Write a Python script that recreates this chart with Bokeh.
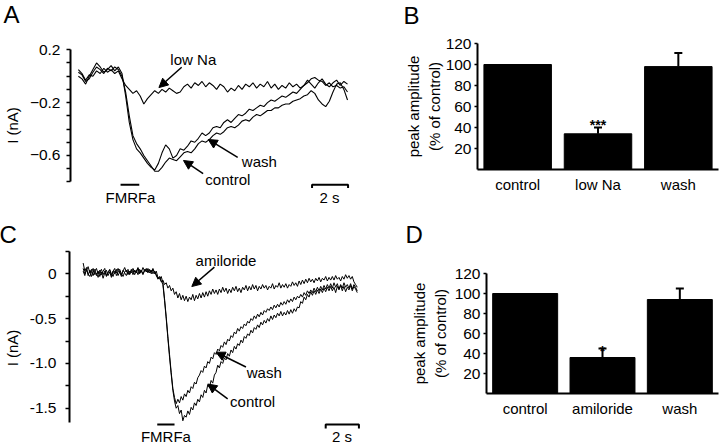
import numpy as np
from bokeh.plotting import figure
from bokeh.models import (Range1d, FactorRange, FixedTicker, Title, Arrow, NormalHead,
                          Whisker, TeeHead, ColumnDataSource)
from bokeh.layouts import row, column
from bokeh.embed import file_html
from bokeh.resources import INLINE
from bokeh.core.properties import value

FONT = "Liberation Sans"

# ---------------- Panel A data (current, nA; sampled every 0.2 s) ----------------
A_DT = 0.2
A_CONTROL = [
    0.03, 0.01, -0.04, -0.02, 0.03, 0.07, 0.05, 0.02, 0.06, 0.04,
    0.07, 0.05, 0.00, -0.12, -0.30, -0.45, -0.51, -0.55, -0.60, -0.64,
    -0.68, -0.72, -0.72, -0.69, -0.65, -0.62, -0.63, -0.64, -0.61, -0.58,
    -0.57, -0.58, -0.55, -0.51, -0.49, -0.50, -0.48, -0.45, -0.43, -0.44,
    -0.42, -0.39, -0.38, -0.39, -0.37, -0.34, -0.33, -0.34, -0.31, -0.29,
    -0.30, -0.28, -0.26, -0.26, -0.24, -0.24, -0.22, -0.21, -0.21, -0.19,
    -0.18, -0.17, -0.15, -0.14, -0.11, -0.13, -0.18, -0.21, -0.23, -0.19,
    -0.12, -0.06, -0.05, -0.10, -0.18]
A_WASH = [
    0.00, -0.02, -0.06, 0.00, 0.05, 0.10, 0.07, 0.03, 0.05, 0.08,
    0.04, 0.07, 0.02, -0.15, -0.35, -0.48, -0.55, -0.58, -0.62, -0.66,
    -0.69, -0.71, -0.66, -0.58, -0.52, -0.55, -0.62, -0.60, -0.55, -0.56,
    -0.53, -0.49, -0.50, -0.47, -0.43, -0.45, -0.43, -0.39, -0.38, -0.39,
    -0.35, -0.33, -0.35, -0.32, -0.29, -0.30, -0.28, -0.25, -0.26, -0.24,
    -0.22, -0.23, -0.20, -0.18, -0.19, -0.17, -0.15, -0.16, -0.14, -0.12,
    -0.13, -0.10, -0.07, -0.05, -0.02, -0.01, -0.03, -0.04, -0.07, -0.05,
    -0.08, -0.07, -0.09, -0.08, -0.12]
A_LOWNA = [
    0.05, 0.02, -0.03, 0.01, 0.00, 0.04, 0.02, 0.06, 0.03, 0.05,
    0.02, 0.04, -0.02, -0.07, -0.10, -0.13, -0.11, -0.15, -0.21, -0.17,
    -0.14, -0.11, -0.13, -0.10, -0.12, -0.09, -0.11, -0.13, -0.12, -0.08,
    -0.06, -0.09, -0.05, -0.07, -0.04, -0.08, -0.05, -0.07, -0.10, -0.06,
    -0.08, -0.12, -0.09, -0.11, -0.07, -0.10, -0.06, -0.08, -0.05, -0.09,
    -0.06, -0.08, -0.04, -0.09, -0.06, -0.10, -0.07, -0.09, -0.05, -0.08,
    -0.06, -0.09, -0.07, -0.03, -0.06, -0.09, -0.05, -0.02, -0.06, -0.08,
    -0.05, -0.03, -0.07, -0.04, -0.06]

# ---------------- Panel B data ----------------
B_CATS = ["control", "low Na", "wash"]
B_VALUES = [100, 34, 98]
B_ERRORS = [0, 6, 13]
B_SIG = ["", "***", ""]

# ---------------- Panel C data (current, nA; sampled every 0.1 s) ----------------
C_DT = 0.1
C_CONTROL = [
    0.12, 0.03, 0.07, -0.02, 0.04, -0.03, 0.02, 0.05, -0.02, 0.03,
    -0.03, 0.02, -0.05, 0.01, 0.04, -0.02, 0.02, -0.04, 0.03, 0.00,
    0.05, -0.02, 0.02, -0.03, 0.04, 0.01, -0.02, 0.03, 0.00, 0.05,
    -0.01, 0.04, 0.01, 0.06, 0.00, 0.03, -0.01, 0.05, 0.02, 0.06,
    0.01, 0.04, 0.00, 0.03, -0.02, -0.05, -0.03, -0.08, -0.12, -0.30,
    -0.50, -0.72, -0.93, -1.12, -1.30, -1.42, -1.50, -1.47, -1.56, -1.52,
    -1.64, -1.58, -1.60, -1.53, -1.57, -1.49, -1.52, -1.44, -1.47, -1.40,
    -1.43, -1.35, -1.38, -1.30, -1.33, -1.24, -1.27, -1.19, -1.22, -1.13,
    -1.10, -1.02, -1.05, -0.98, -1.00, -0.94, -0.96, -0.89, -0.92, -0.85,
    -0.88, -0.81, -0.84, -0.78, -0.80, -0.74, -0.77, -0.70, -0.72, -0.67,
    -0.69, -0.63, -0.66, -0.60, -0.62, -0.57, -0.60, -0.54, -0.57, -0.52,
    -0.55, -0.50, -0.53, -0.47, -0.51, -0.46, -0.49, -0.44, -0.47, -0.42,
    -0.47, -0.43, -0.46, -0.41, -0.45, -0.40, -0.44, -0.39, -0.42, -0.37,
    -0.38, -0.31, -0.33, -0.26, -0.29, -0.23, -0.26, -0.20, -0.24, -0.19,
    -0.23, -0.18, -0.22, -0.17, -0.21, -0.16, -0.20, -0.15, -0.19, -0.14,
    -0.19, -0.15, -0.21, -0.14, -0.18, -0.13, -0.19, -0.14, -0.20, -0.15,
    -0.18, -0.13, -0.19, -0.14, -0.17, -0.21]
C_WASH = [
    0.06, 0.00, 0.04, 0.08, 0.01, 0.05, -0.02, 0.03, 0.06, 0.00,
    0.04, -0.01, 0.03, 0.06, -0.02, 0.02, 0.05, 0.00, -0.03, 0.03,
    0.01, 0.06, 0.02, -0.01, 0.03, 0.07, 0.02, 0.05, -0.01, 0.03,
    0.06, 0.02, 0.04, -0.01, 0.05, 0.02, 0.07, 0.03, 0.05, 0.01,
    0.05, 0.02, 0.06, 0.00, 0.03, -0.04, -0.06, -0.03, -0.10, -0.28,
    -0.48, -0.70, -0.90, -1.10, -1.28, -1.38, -1.45, -1.40, -1.44, -1.37,
    -1.41, -1.34, -1.37, -1.30, -1.33, -1.26, -1.28, -1.21, -1.23, -1.16,
    -1.13, -1.08, -1.10, -1.03, -1.05, -0.98, -1.00, -0.93, -0.95, -0.88,
    -0.90, -0.84, -0.86, -0.80, -0.82, -0.76, -0.79, -0.73, -0.75, -0.69,
    -0.71, -0.65, -0.67, -0.61, -0.64, -0.59, -0.61, -0.56, -0.58, -0.53,
    -0.55, -0.50, -0.52, -0.47, -0.50, -0.45, -0.48, -0.43, -0.46, -0.41,
    -0.43, -0.39, -0.41, -0.37, -0.40, -0.35, -0.38, -0.34, -0.37, -0.32,
    -0.35, -0.31, -0.34, -0.29, -0.32, -0.28, -0.31, -0.26, -0.29, -0.25,
    -0.27, -0.23, -0.26, -0.21, -0.24, -0.19, -0.22, -0.18, -0.21, -0.16,
    -0.20, -0.15, -0.19, -0.14, -0.18, -0.13, -0.17, -0.12, -0.16, -0.11,
    -0.16, -0.10, -0.15, -0.11, -0.17, -0.12, -0.16, -0.10, -0.15, -0.12,
    -0.16, -0.11, -0.17, -0.12, -0.15, -0.19]
C_AMILORIDE = [
    0.03, -0.02, 0.05, 0.00, -0.03, 0.02, 0.06, -0.01, 0.01, -0.04,
    0.02, 0.05, -0.01, 0.03, -0.03, 0.01, 0.04, -0.02, 0.03, 0.06,
    -0.02, 0.02, 0.05, 0.00, -0.03, 0.02, 0.04, -0.01, 0.03, 0.01,
    0.04, -0.01, 0.03, 0.07, 0.01, 0.04, 0.00, 0.03, 0.06, 0.02,
    0.04, 0.00, 0.05, 0.02, -0.01, -0.06, -0.04, -0.09, -0.07, -0.12,
    -0.10, -0.16, -0.13, -0.19, -0.16, -0.23, -0.20, -0.27, -0.22, -0.29,
    -0.24, -0.30, -0.25, -0.31, -0.26, -0.29, -0.23, -0.30, -0.24, -0.28,
    -0.22, -0.27, -0.21, -0.26, -0.20, -0.25, -0.19, -0.23, -0.17, -0.22,
    -0.18, -0.23, -0.17, -0.21, -0.15, -0.20, -0.16, -0.22, -0.17, -0.21,
    -0.15, -0.19, -0.14, -0.20, -0.16, -0.21, -0.15, -0.18, -0.13, -0.19,
    -0.14, -0.18, -0.12, -0.17, -0.13, -0.19, -0.14, -0.17, -0.12, -0.16,
    -0.13, -0.18, -0.14, -0.16, -0.11, -0.17, -0.13, -0.15, -0.10, -0.16,
    -0.12, -0.15, -0.11, -0.16, -0.12, -0.14, -0.09, -0.13, -0.10, -0.14,
    -0.08, -0.12, -0.07, -0.11, -0.06, -0.10, -0.05, -0.09, -0.06, -0.10,
    -0.05, -0.08, -0.04, -0.09, -0.05, -0.07, -0.03, -0.08, -0.04, -0.07,
    -0.03, -0.07, -0.02, -0.06, -0.04, -0.08, -0.03, -0.06, -0.01, -0.05,
    -0.02, -0.06, -0.03, -0.09, -0.12, -0.15]

# ---------------- Panel D data ----------------
D_CATS = ["control", "amiloride", "wash"]
D_VALUES = [100, 36, 94]
D_ERRORS = [0, 9, 11]
D_SIG = ["", "*", ""]

A_TIME = np.round(np.arange(len(A_CONTROL)) * A_DT, 3)
C_TIME = np.round(np.arange(len(C_CONTROL)) * C_DT, 3)


def style_common(p):
    p.outline_line_color = None
    p.background_fill_color = "white"
    p.border_fill_color = "white"
    p.grid.grid_line_color = None
    p.frame_align = False


def panel_letter(p, txt, offset, lh=None):
    kw = dict(align="left", vertical_align="top", offset=offset, standoff=1,
              text_font=FONT, text_font_size="24px", text_font_style="normal",
              text_color="black")
    title = None
    if lh is not None:
        # an empty second line fills the space between the letter and the frame
        try:
            title = Title(text=txt + "\n", text_line_height=lh, **kw)
        except Exception:
            title = None
    if title is None:
        title = Title(text=txt, **kw)
    p.add_layout(title, "above")


def style_trace_yaxis(ax, major, minor, bounds):
    ax.bounds = bounds
    ax.ticker = FixedTicker(ticks=major, minor_ticks=minor)
    ax.axis_line_width = 2
    ax.axis_line_color = "black"
    ax.major_tick_line_width = 1.5
    ax.minor_tick_line_width = 1.5
    ax.major_tick_out = 4
    ax.major_tick_in = 0
    ax.minor_tick_out = 4
    ax.minor_tick_in = 0
    ax.major_label_text_font = FONT
    ax.major_label_text_font_size = "15.5px"
    ax.major_label_text_color = "black"
    ax.axis_label = "I (nA)"
    ax.axis_label_text_font = FONT
    ax.axis_label_text_font_size = "15px"
    ax.axis_label_text_font_style = "normal"
    ax.axis_label_text_color = "black"


def add_texts(p, xs, ys, texts, size="15px"):
    p.text(x=xs, y=ys, text=texts, text_font=value(FONT), text_font_size=value(size),
           text_align="center", text_baseline="middle", text_color="black")


def add_arrow(p, x0, y0, x1, y1):
    p.add_layout(Arrow(end=NormalHead(size=9, fill_color="black", line_color="black", line_width=1),
                       x_start=x0, y_start=y0, x_end=x1, y_end=y1,
                       line_color="black", line_width=1.5))


# ================= Panel A =================
pA = figure(width=360, height=220, x_range=Range1d(-0.4324, 15.514), y_range=Range1d(-1.0924, 0.346),
            x_axis_type=None, output_backend="svg", toolbar_location=None, title=None,
            min_border_left=65, min_border_right=0, min_border_top=30, min_border_bottom=0)
style_common(pA)
style_trace_yaxis(pA.yaxis[0], [-0.6, -0.2, 0.2], [-0.8, -0.7, -0.5, -0.4, -0.3, -0.1, 0.0, 0.1], (-0.8, 0.2))
pA.yaxis[0].major_label_standoff = 6
pA.yaxis[0].axis_label_standoff = 6
for series in (A_LOWNA, A_WASH, A_CONTROL):
    pA.line(A_TIME, series, line_color="black", line_width=1.1)
# stimulus bar + scale bar
pA.line([2.32, 3.35], [-0.821, -0.821], line_color="black", line_width=2)
pA.line([12.85, 12.85, 14.83, 14.83], [-0.846, -0.821, -0.821, -0.846], line_color="black", line_width=2)
add_texts(pA, [2.865, 13.81], [-0.918, -0.918], ["FMRFa", "2 s"])
add_texts(pA, [6.32, 9.95, 8.22], [0.126, -0.646, -0.782], ["low Na", "wash", "control"])
add_arrow(pA, 5.68, 0.068, 4.43, -0.086)
add_arrow(pA, 8.76, -0.615, 7.14, -0.479)
add_arrow(pA, 6.86, -0.737, 5.78, -0.638)
panel_letter(pA, "A", -67)


def bar_panel(cats, vals, errs, sig, width, height, ml, mr, mt, mb, sig_y, label_standoff):
    p = figure(width=width, height=height, x_range=FactorRange(factors=cats), y_range=Range1d(0, 120),
               output_backend="svg", toolbar_location=None, title=None,
               min_border_left=ml, min_border_right=mr, min_border_top=mt, min_border_bottom=mb)
    style_common(p)
    p.vbar(x=cats, top=vals, width=0.84, fill_color="black", line_color="black")
    ex = [c for c, e in zip(cats, errs) if e > 0]
    lo = [v for v, e in zip(vals, errs) if e > 0]
    hi = [v + e for v, e in zip(vals, errs) if e > 0]
    src = ColumnDataSource(dict(x=ex, lower=lo, upper=hi))
    p.add_layout(Whisker(source=src, base="x", lower="lower", upper="upper", dimension="height",
                         line_color="black", line_width=2, lower_head=None,
                         upper_head=TeeHead(size=8, line_color="black", line_width=2)))
    sx = [c for c, s in zip(cats, sig) if s]
    st = [s for s in sig if s]
    p.text(x=sx, y=[sig_y] * len(sx), text=st, text_font=value(FONT), text_font_size=value("14px"),
           text_font_style="bold", text_align="center", text_baseline="middle", text_color="black")
    xa = p.xaxis[0]
    xa.axis_line_width = 2
    xa.axis_line_color = "black"
    xa.major_tick_line_color = None
    xa.minor_tick_line_color = None
    xa.major_tick_out = 0
    xa.major_tick_in = 0
    xa.minor_tick_out = 0
    xa.major_label_standoff = 6
    xa.major_label_text_font = FONT
    xa.major_label_text_font_size = "15px"
    xa.major_label_text_color = "black"
    ya = p.yaxis[0]
    ya.ticker = FixedTicker(ticks=[20, 40, 60, 80, 100, 120])
    ya.axis_line_width = 2
    ya.axis_line_color = "black"
    ya.major_tick_out = 3
    ya.major_tick_in = 0
    ya.minor_tick_out = 0
    ya.major_tick_line_width = 1.5
    ya.minor_tick_line_color = None
    ya.major_label_standoff = 3
    ya.major_label_text_font = FONT
    ya.major_label_text_font_size = "15.5px"
    ya.major_label_text_color = "black"
    ya.axis_label = "peak amplitude\n(% of control)"
    ya.axis_label_text_font = FONT
    ya.axis_label_text_font_size = "15px"
    ya.axis_label_text_font_style = "normal"
    ya.axis_label_text_color = "black"
    ya.axis_label_standoff = label_standoff
    return p


# ================= Panel B =================
pB = bar_panel(B_CATS, B_VALUES, B_ERRORS, B_SIG, 360, 220, 117, 2, 43, 51, 42, 0)
panel_letter(pB, "B", -74, lh=0.45)

# ================= Panel C =================
pC = figure(width=360, height=225, x_range=Range1d(-0.822, 16.695), y_range=Range1d(-1.916, 0.26),
            x_axis_type=None, output_backend="svg", toolbar_location=None, title=None,
            min_border_left=68, min_border_right=0, min_border_top=30, min_border_bottom=0)
style_common(pC)
style_trace_yaxis(pC.yaxis[0], [-1.5, -1.0, -0.5, 0.0], [-1.25, -0.75, -0.25, 0.25], (-1.656, 0.25))
pC.yaxis[0].major_label_overrides = {0: "0", -0.5: "-0.5", -1: "-1.0", -1.5: "-1.5"}
pC.yaxis[0].major_label_standoff = 9
pC.yaxis[0].axis_label_standoff = 6
for series in (C_AMILORIDE, C_WASH, C_CONTROL):
    pC.line(C_TIME, series, line_color="black", line_width=1)
pC.line([4.46, 5.5], [-1.682, -1.682], line_color="black", line_width=2)
pC.line([14.6, 14.6, 16.6, 16.6], [-1.727, -1.682, -1.682, -1.727], line_color="black", line_width=2)
add_texts(pC, [4.98, 15.585], [-1.810, -1.810], ["FMRFa", "2 s"])
add_texts(pC, [8.6, 10.9, 10.2], [0.148, -1.10, -1.43], ["amiloride", "wash", "control"])
add_arrow(pC, 7.9, 0.074, 6.54, -0.142)
add_arrow(pC, 9.8, -1.04, 8.0, -0.875)
add_arrow(pC, 8.7, -1.395, 7.5, -1.23)
panel_letter(pC, "C", -70)

# ================= Panel D =================
pD = bar_panel(D_CATS, D_VALUES, D_ERRORS, D_SIG, 360, 225, 126, 2, 53, 52, 43, 3)
panel_letter(pD, "D", -81, lh=0.85)

layout = column(row(pA, pB), row(pC, pD))
open("out.html", "w").write(file_html(layout, INLINE))
